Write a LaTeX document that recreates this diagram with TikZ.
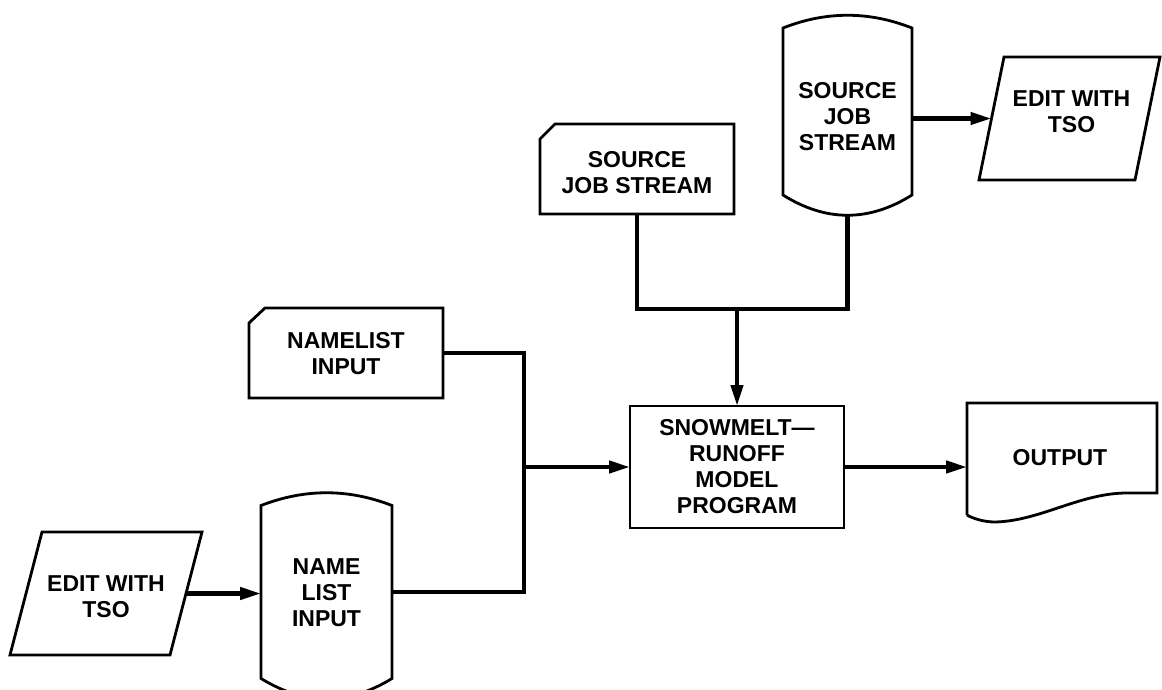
\documentclass[tikz,border=0pt]{standalone}
\usepackage{fontspec}
\setmainfont{Liberation Sans}
\usetikzlibrary{arrows.meta,calc}
\begin{document}
\begin{tikzpicture}[x=1pt,y=-1pt,
  outline/.style={line width=2.8pt},
  conn/.style={line width=4.2pt},
  arr/.style={conn,-{Triangle[length=21pt,width=12pt]}},
  box/.style 2 args={minimum width=#1pt,minimum height=#2pt,inner sep=0pt,outer sep=0pt},
  lbl/.style={font=\fontsize{23}{26}\selectfont\bfseries,align=center,inner sep=0pt,outer sep=0pt}]
\useasboundingbox (0,0) rectangle (1162,689);

% source card
\node[box={194}{90}] (sc) at (637,169) {};
\draw[outline] ($(sc.north west)+(0,15)$) -- ($(sc.north west)+(15,0)$) -- (sc.north east) -- (sc.south east) -- (sc.south west) -- cycle;
\node[lbl] (sct) at ($(sc)+(0,4)$) {SOURCE\\JOB STREAM};

% source drum
\node[box={129}{167}] (sd) at (847.5,111.5) {};
\draw[outline] (sd.north west) .. controls +(43,-17) and +(-43,-17) .. (sd.north east) -- (sd.south east) .. controls +(-43,27) and +(43,27) .. (sd.south west) -- cycle;
\node[lbl] (sdt) at ($(sd)+(0,5)$) {SOURCE\\JOB\\STREAM};

% edit with tso (top)
\node[box={181}{123}] (et) at (1069.5,118.5) {};
\draw[outline] ($(et.north west)+(25,0)$) -- (et.north east) -- ($(et.south east)+(-25,0)$) -- (et.south west) -- cycle;
\node[lbl] (ett) at ($(et)+(2,-7)$) {EDIT WITH\\TSO};

% namelist card
\node[box={194}{90}] (nc) at (346,353) {};
\draw[outline] ($(nc.north west)+(0,15)$) -- ($(nc.north west)+(16,0)$) -- (nc.north east) -- (nc.south east) -- (nc.south west) -- cycle;
\node[lbl] (nct) at ($(nc)+(0,1)$) {NAMELIST\\INPUT};

% main program
\node[lbl,draw,outline,minimum width=214pt,minimum height=122pt] (mb) at (737,467) {SNOWMELT—\\RUNOFF\\MODEL\\PROGRAM};

% output document
\node[box={190}{112}] (out) at (1062,459) {};
\draw[outline] (out.south west) -- (out.north west) -- (out.north east) -- ($(out.north east)+(0,90)$) -- ($(out.north east)+(-30,90)$) .. controls ($(out.north east)+(-77,90)$) and ($(out.north west)+(73,118)$) .. ($(out.north west)+(28,119)$) .. controls ($(out.north west)+(16,119)$) and ($(out.north west)+(5,115)$) .. (out.south west);
\node[lbl] (outt) at ($(out)+(-2,-1)$) {OUTPUT};

% edit with tso (bottom)
\node[box={192}{123}] (eb) at (106,593.5) {};
\draw[outline] ($(eb.north west)+(32,0)$) -- (eb.north east) -- ($(eb.south east)+(-32,0)$) -- (eb.south west) -- cycle;
\node[lbl] (ebt) at ($(eb)+(0,3)$) {EDIT WITH\\TSO};

% name list drum
\node[box={131}{173}] (nd) at (326.5,592) {};
\draw[outline] (nd.north west) .. controls +(44,-17) and +(-44,-17) .. (nd.north east) -- (nd.south east) .. controls +(-44,27) and +(44,27) .. (nd.south west) -- cycle;
\node[lbl] (ndt) at ($(nd)+(0,1)$) {NAME\\LIST\\INPUT};

% connectors
\draw[arr] (sd.east |- et.west) -- ($(et.west)+(12.5,0)$);
\coordinate (jt) at (mb.north |- 0,309);
\draw[conn] (sc.south) |- (jt);
\draw[conn] ($(sd.south)+(0,20)$) |- (jt);
\draw[arr] (jt) -- (mb.north);

\path (mb.west) ++(-106,0) coordinate (jn);
\draw[conn] (nc.east) -| (jn);
\draw[conn] (nd.east) -| (jn);
\draw[arr] (jn) -- (mb.west);

\draw[arr] ($(eb.east)+(-16,0)$) -- (nd.west |- eb.east);
\draw[arr] (mb.east) -- (out.west |- mb.east);
\end{tikzpicture}
\end{document}
